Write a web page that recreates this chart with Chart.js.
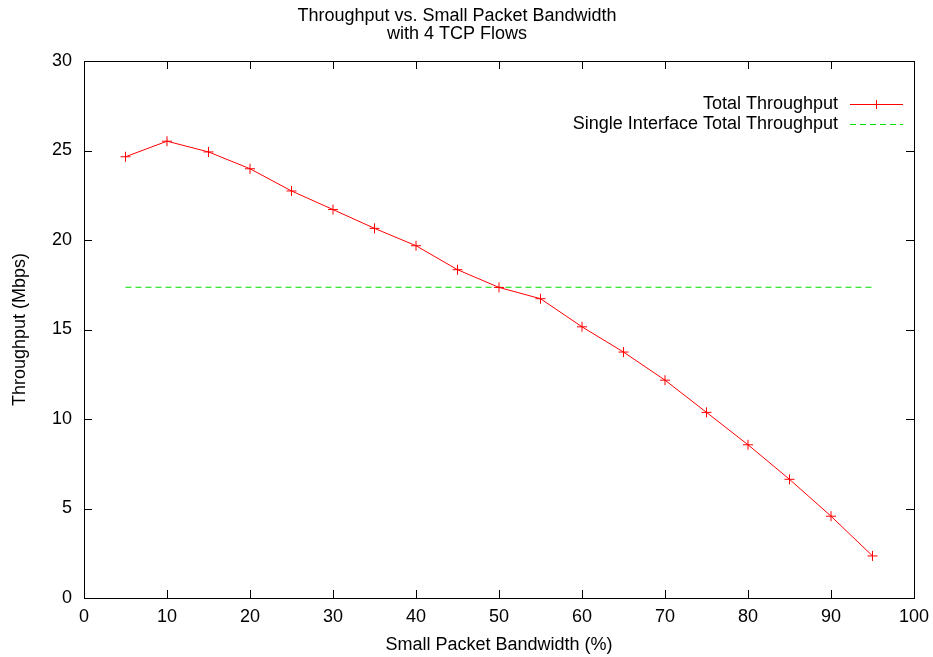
<!DOCTYPE html>
<html>
<head>
<meta charset="utf-8">
<script src="https://cdn.jsdelivr.net/npm/chart.js@4.4.1/dist/chart.umd.min.js"></script>
<style>
  html, body { margin: 0; padding: 0; background: #fff; }
  #wrap { width: 933px; height: 657px; }
</style>
</head>
<body>
<div id="wrap"><canvas id="myChart" width="933" height="657"></canvas></div>
<script>
// data
var bandwidth = [5, 10, 15, 20, 25, 30, 35, 40, 45, 50, 55, 60, 65, 70, 75, 80, 85, 90, 95];
var totalThroughput = [24.65, 25.52, 24.92, 23.98, 22.74, 21.70, 20.65, 19.68, 18.34, 17.35, 16.72, 15.15, 13.74, 12.17, 10.37, 8.56, 6.63, 4.57, 2.35];
var singleX = [5, 95];
var singleThroughput = [17.36, 17.36];

var FONT = 'Liberation Sans, Arial, Helvetica, sans-serif';
Chart.defaults.font.family = FONT;
Chart.defaults.color = '#000';

// gnuplot style frame with inward ticks on all four sides, plus the key
var framePlugin = {
  id: 'frame',
  afterDraw: function(chart) {
    var c = chart.ctx, a = chart.chartArea;
    var xs = chart.scales.x, ys = chart.scales.y;
    c.save();
    c.strokeStyle = '#000';
    c.lineWidth = 1;
    c.strokeRect(a.left + 0.5, a.top + 0.5, a.right - a.left, a.bottom - a.top);
    c.beginPath();
    xs.ticks.forEach(function(t) {
      var px = Math.round(xs.getPixelForValue(t.value)) + 0.5;
      c.moveTo(px, a.bottom); c.lineTo(px, a.bottom - 8);
      c.moveTo(px, a.top); c.lineTo(px, a.top + 8);
    });
    ys.ticks.forEach(function(t) {
      var py = Math.round(ys.getPixelForValue(t.value)) + 0.5;
      c.moveTo(a.left, py); c.lineTo(a.left + 8, py);
      c.moveTo(a.right, py); c.lineTo(a.right - 8, py);
    });
    c.stroke();

    // key
    c.font = '18px ' + FONT;
    c.textAlign = 'right';
    c.textBaseline = 'middle';
    c.fillStyle = '#000';
    var rows = [104, 124];
    chart.data.datasets.forEach(function(ds, i) {
      var y = rows[i];
      c.fillText(ds.label, 838, y);
      c.strokeStyle = ds.borderColor;
      c.lineWidth = 1;
      c.setLineDash(ds.borderDash || []);
      c.beginPath();
      c.moveTo(850, y + 0.5); c.lineTo(903, y + 0.5);
      c.stroke();
      c.setLineDash([]);
      if (ds.pointStyle === 'cross') {
        c.beginPath();
        c.moveTo(876.5, y - 4); c.lineTo(876.5, y + 5);
        c.moveTo(872, y + 0.5); c.lineTo(881, y + 0.5);
        c.stroke();
      }
    });
    c.restore();
  }
};

var ctx = document.getElementById('myChart').getContext('2d');
var myChart = new Chart(ctx, {
  type: 'line',
  data: {
    datasets: [{
      label: 'Total Throughput',
      data: bandwidth.map(function(x, i) { return {x: x, y: totalThroughput[i]}; }),
      borderColor: '#ff0000',
      backgroundColor: '#ff0000',
      borderWidth: 1,
      pointStyle: 'cross',
      pointRadius: 5,
      pointBorderWidth: 1,
      fill: false,
      tension: 0
    }, {
      label: 'Single Interface Total Throughput',
      data: singleX.map(function(x, i) { return {x: x, y: singleThroughput[i]}; }),
      borderColor: '#00e000',
      backgroundColor: '#00e000',
      borderWidth: 1,
      borderDash: [6, 4],
      pointRadius: 0,
      fill: false,
      tension: 0
    }]
  },
  options: {
    responsive: false,
    animation: false,
    layout: { padding: { left: 0, right: 19, top: 0, bottom: 0 } },
    plugins: {
      legend: { display: false },
      tooltip: { enabled: false },
      title: {
        display: true,
        text: ['Throughput vs. Small Packet Bandwidth', 'with 4 TCP Flows'],
        font: { size: 18, weight: 'normal', lineHeight: 1.0 },
        color: '#000',
        padding: { top: 7, bottom: 18 }
      }
    },
    scales: {
      x: {
        type: 'linear',
        min: 0,
        max: 100,
        ticks: { stepSize: 10, padding: 8, font: { size: 18 }, color: '#000', maxRotation: 0 },
        grid: { display: false, drawTicks: false },
        border: { display: false },
        title: { display: true, text: 'Small Packet Bandwidth (%)', font: { size: 18 }, color: '#000', padding: { top: 0, bottom: 1 } },
        afterFit: function(s) { s.height = 59; s.paddingRight = 0; s.paddingLeft = 0; }
      },
      y: {
        min: 0,
        max: 30,
        ticks: { stepSize: 5, padding: 12, font: { size: 18 }, color: '#000' },
        grid: { display: false, drawTicks: false },
        border: { display: false },
        title: { display: true, text: 'Throughput (Mbps)', font: { size: 18 }, color: '#000', padding: { top: 9, bottom: 0 } },
        afterFit: function(s) { s.width = 84; }
      }
    }
  },
  plugins: [framePlugin]
});
</script>
</body>
</html>
